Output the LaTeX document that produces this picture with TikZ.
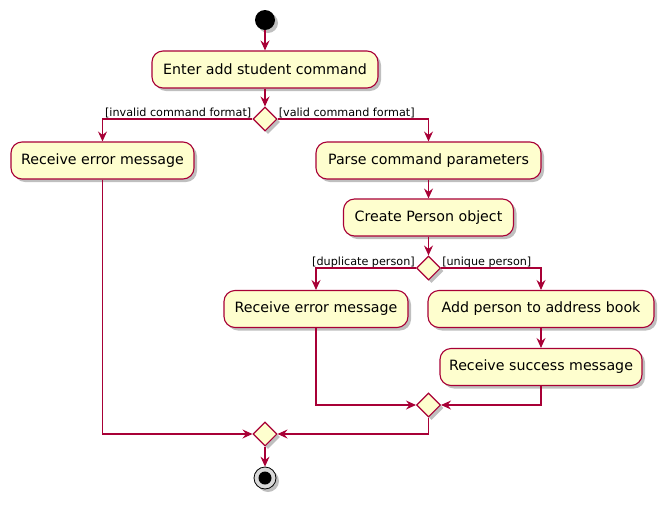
\documentclass[tikz,border=0pt]{standalone}
\usepackage{fontspec}
\setmainfont{DejaVu Sans}
\usetikzlibrary{arrows.meta,shadows,shapes.geometric}
\definecolor{umlred}{HTML}{A80036}
\definecolor{umlfill}{HTML}{FEFECE}
\tikzset{
  shade/.style = {drop shadow={shadow xshift=3pt, shadow yshift=-3pt,
                  opacity=0.25, fill=black}},
  action/.style = {rounded corners=11pt, draw=umlred, fill=umlfill,
                   line width=1.1pt, minimum height=37pt, minimum width=#1,
                   inner sep=0pt, font=\fontsize{14.2}{16}\selectfont, shade},
  action/.default = 180pt,
  branch/.style = {diamond, draw=umlred, fill=umlfill, line width=1.1pt,
                   minimum size=24pt, inner sep=0pt, shade},
  flow/.style = {draw=umlred, line width=1.1pt,
                 -{Stealth[length=10pt, width=9pt, inset=3.5pt]}},
  guard/.style = {font=\fontsize{11.2}{13}\selectfont, inner sep=1pt}
}

\begin{document}
\begin{tikzpicture}[x=1pt, y=-1pt]
	\def \mid{265}
	\def \right{428.5}
	\useasboundingbox (0,0) rectangle (670,504);

	% Start / stop
	\node[circle, fill=black, minimum size=20pt, inner sep=0pt, shade] (start) at (\mid,20) {};
	\node[circle, draw=black, fill=black!15, line width=0.8pt, minimum size=22pt, inner sep=0pt, shade] (stop) at (\mid,478) {};
	\node[circle, fill=black, minimum size=13pt, inner sep=0pt] (stopdot) at (stop.center) {};

	% Actions
	\node[action=226pt] (enter) at (\mid,69.5) {Enter add student command};
	\node[action=183pt] (err1) at (102.5,160.5) {Receive error message};
	\node[action=225pt] (parse) at (\right,160.5) {Parse command parameters};
	\node[action=170pt] (create) at (\right,217.5) {Create Person object};
	\node[action=184pt] (err2) at (316,309) {Receive error message};
	\node[action=226pt] (add) at (541,309) {Add person to address book};
	\node[action=202pt] (succ) at (541,367) {Receive success message};

	% Decisions and merges
	\node[branch] (dec1) at (\mid,119) {};
	\node[branch] (dec2) at (\right,268) {};
	\node[branch] (merge2) at (\right,405) {};
	\node[branch] (merge1) at (\mid,434) {};

	% Guards
	\node[guard, anchor=base east, yshift=3pt] (g1) at (dec1.west) {[invalid command format]};
	\node[guard, anchor=base west, yshift=3pt] (g2) at (dec1.east) {[valid command format]};
	\node[guard, anchor=base east, yshift=3pt] (g3) at (dec2.west) {[duplicate person]};
	\node[guard, anchor=base west, yshift=3pt] (g4) at (dec2.east) {[unique person]};

	% Flows
	\draw[flow] (start) -- (enter);
	\draw[flow] (enter) -- (dec1);
	\draw[flow] (dec1.west) -| (err1.north);
	\draw[flow] (dec1.east) -| (parse.north);
	\draw[flow] (parse) -- (create);
	\draw[flow] (create) -- (dec2);
	\draw[flow] (dec2.west) -| (err2.north);
	\draw[flow] (dec2.east) -| (add.north);
	\draw[flow] (add) -- (succ);
	\draw[flow] (err2.south) |- (merge2.west);
	\draw[flow] (succ.south) |- (merge2.east);
	\draw[flow] (err1.south) |- (merge1.west);
	\draw[flow] (merge2.south) |- (merge1.east);
	\draw[flow] (merge1) -- (stop);

\end{tikzpicture}
\end{document}
